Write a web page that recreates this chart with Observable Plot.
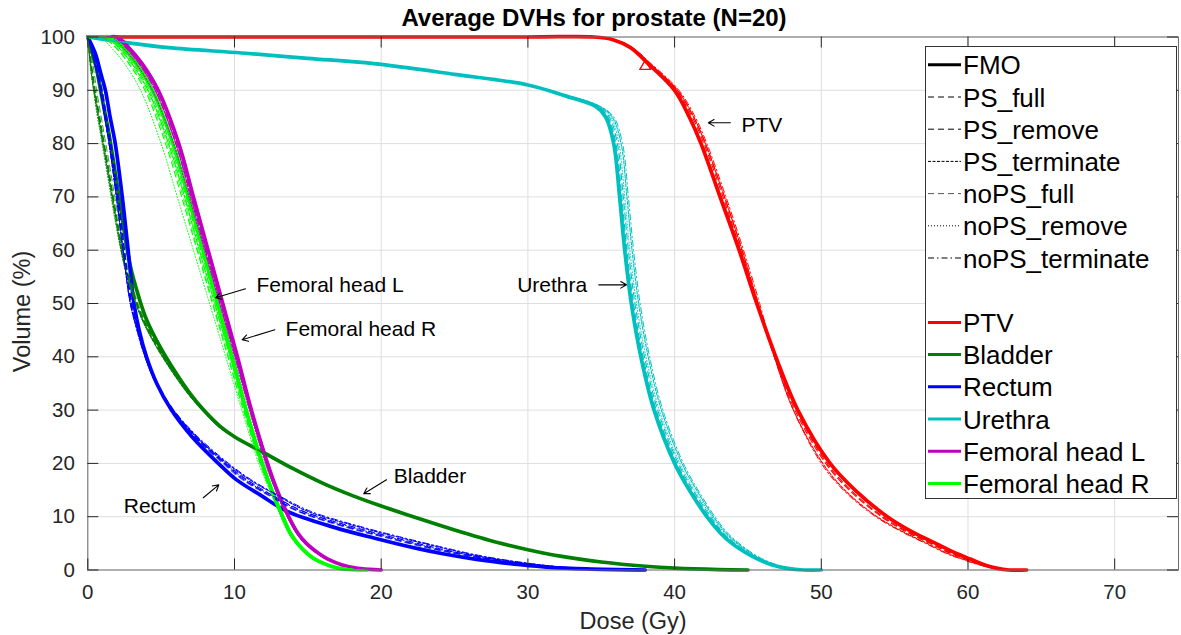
<!DOCTYPE html>
<html><head><meta charset="utf-8">
<script src="https://cdn.jsdelivr.net/npm/d3@7"></script>
<script src="https://cdn.jsdelivr.net/npm/@observablehq/plot@0.6"></script>
<style>
body{margin:0;background:#fff;font-family:"Liberation Sans",Arial,Helvetica,sans-serif;}
#wrap{position:relative;width:1181px;height:635px;overflow:hidden;}
#title{position:relative;height:16px;z-index:2;}
#title span{position:absolute;left:594px;top:6px;transform:translateX(-50%);white-space:nowrap;font-weight:bold;font-size:24px;line-height:24px;color:#000;}
#chart{position:relative;z-index:1;}
#legend{position:absolute;left:925px;top:46px;z-index:3;}
</style></head><body>
<div id="wrap"><div id="title"><span>Average DVHs for prostate (N=20)</span></div><div id="chart"></div><svg id="legend" width="253" height="455"></svg></div>
<script>
const methods = ["FMO","PS_full","PS_remove","PS_terminate","noPS_full","noPS_remove","noPS_terminate"];
const structures = ["PTV","Bladder","Rectum","Urethra","Femoral head L","Femoral head R"];
const structureColors = ["#ff0000","#008000","#0000ff","#00bfbf","#bf00bf","#00ff00"];
const xTicks = [0,10,20,30,40,50,60,70];
const yTicks = [0,10,20,30,40,50,60,70,80,90,100];

// Each structure: volume levels (%) and, per method (same order as methods), dose (Gy) at each level
const ptvVolume = [100,100,100,99.5,98,95,90,85,80,70,60,50,40,30,20,15,10,7,5,3,2,1,0.3,0,0];
const ptvDose = [
  [0,30,34.5,35.8,37.0,38.2,40.0,41.0,41.8,43.1,44.4,45.6,46.9,48.4,50.6,52.3,54.5,56.3,57.8,59.3,60.2,61.1,62.0,62.8,64],
  [0,30,34.5,35.8,37.0,38.3,40.2,41.3,42.1,43.4,44.6,45.7,46.9,48.3,50.4,52.0,54.2,56.0,57.5,59.0,59.9,60.9,61.9,62.7,64],
  [0,30,34.5,35.8,37.0,38.3,40.1,41.2,42.0,43.3,44.5,45.6,46.8,48.2,50.3,51.9,54.1,55.9,57.4,58.9,59.9,60.9,61.9,62.7,64],
  [0,30,34.5,35.9,37.1,38.3,40.2,41.3,42.1,43.4,44.6,45.7,46.8,48.1,50.1,51.6,53.8,55.7,57.2,58.7,59.7,60.8,61.8,62.7,64],
  [0,30,34.5,35.8,37.0,38.2,40.1,41.1,41.9,43.2,44.5,45.6,46.9,48.4,50.6,52.2,54.4,56.2,57.7,59.2,60.1,61.0,62.0,62.8,64],
  [0,30,34.5,35.8,37.0,38.2,40.0,41.0,41.8,43.1,44.4,45.6,46.9,48.4,50.6,52.3,54.5,56.3,57.8,59.3,60.2,61.1,62.0,62.8,64],
  [0,30,34.5,35.9,37.1,38.4,40.3,41.4,42.2,43.5,44.7,45.8,46.8,48.1,50.0,51.5,53.7,55.6,57.1,58.6,59.6,60.7,61.8,62.7,64]
];
const bladderVolume = [100,97,94,90,86,82,74,65,57,51,47,42,37,33,30,27,25,22,19,16.3,14,12,9.7,7.5,5.1,3.8,2.6,1.5,0.7,0.35,0.08,0];
const bladderDose = [
  [0,0.3,0.6,0.87,1.15,1.43,1.9,2.4,2.9,3.5,4.0,4.9,6.0,7.0,7.9,9.0,10.0,12.0,14.0,16.0,18.0,20.0,22.5,25.0,28.0,30.0,32.2,35.0,38.0,40.0,43.0,45.0],
  [0,0.15,0.3,0.5,0.75,1.0,1.5,2.05,2.6,3.25,3.8,4.75,5.9,6.9,7.85,8.95,10.0,12.0,14.0,16.0,18.0,20.0,22.5,25.0,28.0,30.0,32.2,35.0,38.0,40.0,43.0,45.0],
  [0,0.12,0.25,0.45,0.7,0.95,1.45,2.0,2.55,3.2,3.75,4.7,5.85,6.9,7.85,8.9,9.95,11.9,13.9,15.9,17.9,19.9,22.4,24.9,27.9,29.9,32.1,35.0,38.0,40.0,43.0,45.0],
  [0,0.1,0.2,0.4,0.65,0.9,1.4,1.95,2.5,3.15,3.7,4.65,5.8,6.85,7.8,8.9,9.95,11.9,13.9,15.9,17.9,19.9,22.4,24.9,27.9,29.9,32.1,35.0,38.0,40.0,43.0,45.0],
  [0,0.2,0.4,0.6,0.85,1.1,1.6,2.15,2.7,3.3,3.85,4.8,5.9,6.95,7.9,8.95,10.0,12.0,14.0,16.0,18.0,20.0,22.5,25.0,28.0,30.0,32.2,35.0,38.0,40.0,43.0,45.0],
  [0,0.1,0.2,0.4,0.6,0.85,1.35,1.9,2.5,3.15,3.7,4.65,5.8,6.85,7.8,8.85,9.9,11.9,13.9,15.9,17.9,19.9,22.4,24.9,27.9,29.9,32.1,35.0,38.0,40.0,43.0,45.0],
  [0,0.1,0.25,0.45,0.7,0.95,1.45,2.0,2.55,3.2,3.75,4.7,5.85,6.9,7.85,8.9,9.95,11.9,13.9,15.9,17.9,19.9,22.4,24.9,27.9,29.9,32.1,35.0,38.0,40.0,43.0,45.0]
];
const rectumVolume = [100,97,93,90,85,80,70,60,50,45,40,35,30,25,20,17,14,11,8,6,4,3,2,1,0.5,0.2,0];
const rectumDose = [
  [0,0.5,0.9,1.2,1.52,1.87,2.35,2.75,3.15,3.5,4.0,4.7,5.7,7.1,8.9,10.1,11.8,13.6,16.8,19.5,22.5,24.3,26.5,29.5,31.5,34,38],
  [0,0.35,0.7,0.9,1.2,1.5,2.0,2.45,2.95,3.4,3.95,4.7,5.8,7.3,9.3,10.6,12.4,14.4,17.8,20.6,23.6,25.4,27.5,30.3,32.2,34.5,38],
  [0,0.35,0.7,0.95,1.25,1.55,2.05,2.5,3.0,3.45,4.0,4.75,5.85,7.4,9.4,10.8,12.6,14.7,18.2,21.0,24.0,25.7,27.8,30.5,32.4,34.6,38],
  [0,0.3,0.65,0.85,1.15,1.45,1.95,2.4,2.9,3.35,3.9,4.65,5.8,7.4,9.5,11.0,12.9,15.0,18.6,21.4,24.4,26.0,28.0,30.7,32.5,34.7,38],
  [0,0.4,0.8,1.0,1.3,1.6,2.1,2.5,3.0,3.45,4.0,4.7,5.75,7.25,9.2,10.5,12.3,14.3,17.6,20.4,23.4,25.2,27.4,30.2,32.1,34.4,38],
  [0,0.3,0.6,0.85,1.15,1.45,1.95,2.4,2.9,3.4,3.95,4.7,5.8,7.35,9.35,10.7,12.5,14.6,18.0,20.8,23.8,25.6,27.7,30.4,32.3,34.6,38],
  [0,0.3,0.65,0.85,1.15,1.45,1.95,2.4,2.9,3.35,3.9,4.65,5.85,7.5,9.6,11.1,13.0,15.2,18.8,21.6,24.6,26.2,28.2,30.8,32.6,34.8,38]
];
const urethraVolume = [100,99,98,97,96,95,93,91,89,87,85,80,70,60,50,40,30,20,15,10,7,5,3,2,1,0.3,0,0];
const urethraDose = [
  [0,2.5,5.5,10.5,15,19.5,25,30,32.5,34.6,35.3,35.85,36.25,36.6,37.05,37.7,38.6,40.0,41.0,42.2,43.1,43.9,45.0,45.7,46.6,47.7,48.8,50],
  [0,2.5,5.5,10.5,15,19.5,25,30,32.6,34.7,35.45,36.0,36.4,36.75,37.2,37.85,38.75,40.15,41.15,42.35,43.25,44.05,45.1,45.8,46.7,47.8,48.8,50],
  [0,2.5,5.5,10.5,15,19.5,25,30,32.6,34.8,35.55,36.1,36.5,36.85,37.3,37.95,38.85,40.25,41.25,42.45,43.3,44.1,45.15,45.85,46.75,47.8,48.8,50],
  [0,2.5,5.5,10.5,15,19.5,25,30,32.7,34.9,35.75,36.35,36.75,37.1,37.55,38.2,39.1,40.5,41.5,42.65,43.5,44.3,45.3,45.95,46.85,47.9,48.9,50],
  [0,2.5,5.5,10.5,15,19.5,25,30,32.5,34.65,35.4,35.95,36.35,36.7,37.15,37.8,38.7,40.1,41.1,42.3,43.2,44.0,45.05,45.75,46.65,47.75,48.8,50],
  [0,2.5,5.5,10.5,15,19.5,25,30,32.6,34.8,35.65,36.2,36.6,36.95,37.4,38.05,38.95,40.35,41.35,42.55,43.4,44.2,45.2,45.9,46.8,47.85,48.9,50],
  [0,2.5,5.5,10.5,15,19.5,25,30,32.7,34.9,35.85,36.45,36.85,37.2,37.65,38.3,39.2,40.6,41.6,42.75,43.6,44.4,45.4,46.05,46.95,47.95,48.9,50]
];
const femoralVolume = [100,100,100,98,95,90,80,70,60,50,40,30,20,15,10,7,5,3,2,1,0.4,0.1,0];
const femoralLDose = [
  [0,1.4,2.0,2.8,3.7,4.8,6.2,7.2,8.2,9.2,10.2,11.15,12.25,12.9,13.7,14.3,14.9,15.8,16.4,17.3,18.2,19.2,20],
  [0,1.3,1.9,2.7,3.6,4.7,6.1,7.15,8.15,9.15,10.15,11.1,12.2,12.85,13.65,14.25,14.85,15.75,16.35,17.25,18.2,19.2,20],
  [0,1.2,1.8,2.6,3.5,4.6,6.0,7.05,8.05,9.1,10.1,11.1,12.2,12.85,13.65,14.25,14.85,15.75,16.35,17.25,18.2,19.2,20],
  [0,1.2,1.8,2.6,3.5,4.6,6.0,7.0,8.0,9.0,10.05,11.05,12.15,12.8,13.6,14.2,14.8,15.7,16.3,17.2,18.1,19.1,20],
  [0,1.3,1.9,2.7,3.6,4.7,6.1,7.1,8.1,9.1,10.1,11.1,12.2,12.85,13.65,14.25,14.85,15.75,16.35,17.25,18.2,19.2,20],
  [0,1.0,1.6,2.4,3.3,4.4,5.85,6.9,7.95,9.0,10.0,11.0,12.1,12.8,13.6,14.2,14.8,15.7,16.3,17.2,18.1,19.1,20],
  [0,1.2,1.8,2.6,3.5,4.6,6.0,7.05,8.05,9.05,10.05,11.05,12.15,12.8,13.6,14.2,14.8,15.7,16.3,17.2,18.1,19.1,20]
];
const femoralRDose = [
  [0,1.0,1.5,2.4,3.3,4.4,5.8,6.85,7.85,8.85,9.85,10.8,11.9,12.55,13.3,13.8,14.3,15.0,15.5,16.3,17.0,17.8,19],
  [0,0.8,1.3,2.2,3.1,4.2,5.6,6.7,7.7,8.75,9.75,10.75,11.85,12.5,13.25,13.75,14.25,14.95,15.45,16.25,16.95,17.8,19],
  [0,0.6,1.0,1.9,2.8,3.9,5.3,6.4,7.45,8.5,9.55,10.6,11.75,12.45,13.2,13.7,14.2,14.9,15.4,16.2,16.9,17.7,19],
  [0,0.7,1.2,2.1,3.0,4.1,5.5,6.6,7.6,8.65,9.7,10.7,11.8,12.45,13.2,13.7,14.2,14.9,15.4,16.2,16.9,17.7,19],
  [0,0.6,1.1,2.0,2.9,4.0,5.4,6.5,7.5,8.55,9.6,10.65,11.75,12.45,13.2,13.7,14.2,14.9,15.4,16.2,16.9,17.7,19],
  [0,0.4,0.8,1.6,2.5,3.6,5.0,6.1,7.2,8.3,9.4,10.5,11.65,12.4,13.15,13.65,14.15,14.85,15.35,16.15,16.85,17.7,19],
  [0,0.7,1.2,2.1,3.0,4.1,5.5,6.6,7.6,8.65,9.7,10.7,11.8,12.45,13.2,13.7,14.2,14.9,15.4,16.2,16.9,17.7,19]
];
// D95 marker on PTV
const ptvMarker = [{dose: 38.0, volume: 94.5}];
// text annotations (dose, volume) and arrows
const labels = [
  {text:"PTV", dose:44.56, volume:83.4},
  {text:"Urethra", dose:29.27, volume:53.5},
  {text:"Femoral head L", dose:11.5, volume:53.4},
  {text:"Femoral head R", dose:13.48, volume:45.2},
  {text:"Bladder", dose:20.86, volume:17.5},
  {text:"Rectum", dose:2.45, volume:11.95}
];
const arrows = [
  {d1:43.8, v1:83.9, d2:42.3, v2:83.9},
  {d1:34.83, v1:53.5, d2:36.72, v2:53.5},
  {d1:10.75, v1:52.76, d2:8.71, v2:51.07},
  {d1:12.75, v1:45.07, d2:10.52, v2:43.19},
  {d1:20.36, v1:16.92, d2:18.81, v2:14.3},
  {d1:7.87, v1:13.55, d2:8.93, v2:15.98}
];

const volumeSets = [ptvVolume, bladderVolume, rectumVolume, urethraVolume, femoralVolume, femoralVolume];
const doseSets = [ptvDose, bladderDose, rectumDose, urethraDose, femoralLDose, femoralRDose];
const rows = [];
structures.forEach((s, si) => {
  methods.forEach((m, mi) => {
    doseSets[si][mi].forEach((d, i) => rows.push({structure: s, method: m, dose: d, volume: volumeSets[si][i]}));
  });
});
const styles = {
  FMO: {w: 3.7, dash: null},
  PS_full: {w: 1.1, dash: "6,4"},
  PS_remove: {w: 1.1, dash: "6,4"},
  PS_terminate: {w: 1.1, dash: "3,1.5"},
  noPS_full: {w: 0.8, dash: "6,4"},
  noPS_remove: {w: 1, dash: "1,2"},
  noPS_terminate: {w: 1, dash: "6,3,1.5,3"}
};

const W = 1181, H = 619;
const mL = 87.3, mR = 3, mT = 20.5, mB = 65.5;
const fw = W - mL - mR, fh = H - mT - mB, tl = 11;
const lineMarks = methods.map(m => Plot.line(rows.filter(r => r.method === m), {
  x: "dose", y: "volume", z: "structure", stroke: "structure",
  strokeWidth: styles[m].w, strokeDasharray: styles[m].dash, curve: "catmull-rom"
}));

const chart = Plot.plot({
  width: W, height: H,
  marginLeft: mL, marginRight: mR, marginTop: mT, marginBottom: mB,
  style: {fontFamily: '"Liberation Sans", Arial, Helvetica, sans-serif', background: "transparent", overflow: "visible"},
  x: {domain: [0, 74.35], label: null},
  y: {domain: [0, 100], label: null},
  color: {domain: structures, range: structureColors},
  marks: [
    Plot.gridX(xTicks, {stroke: "#dedede", strokeOpacity: 1}),
    Plot.gridY(yTicks, {stroke: "#dedede", strokeOpacity: 1}),
    ...lineMarks,
    Plot.dot(ptvMarker, {x: "dose", y: "volume", symbol: "triangle", stroke: "#ff0000", r: 4, strokeWidth: 1.3}),
    Plot.arrow(arrows, {x1: "d1", y1: "v1", x2: "d2", y2: "v2", stroke: "black", strokeWidth: 1.1, headLength: 9}),
    Plot.text(labels, {x: "dose", y: "volume", text: "text", textAnchor: "start", lineAnchor: "middle", fontSize: 21, fill: "black"}),
    Plot.frame({stroke: "#6e6e6e", strokeWidth: 1}),
    Plot.tickX(xTicks, {x: d => d, insetTop: fh - tl, stroke: "#262626"}),
    Plot.tickX(xTicks, {x: d => d, insetBottom: fh - tl, stroke: "#262626"}),
    Plot.tickY(yTicks, {y: d => d, insetRight: fw - tl, stroke: "#262626"}),
    Plot.tickY(yTicks, {y: d => d, insetLeft: fw - tl, stroke: "#262626"}),
    Plot.axisX(xTicks, {tickSize: 0, tickPadding: 14, fontSize: 20.5, fill: "#262626", label: null}),
    Plot.axisY(yTicks, {tickSize: 0, tickPadding: 13, fontSize: 20.5, fill: "#262626", label: null}),
    Plot.text(["Dose (Gy)"], {frameAnchor: "bottom", dy: 51, lineAnchor: "middle", textAnchor: "middle", fontSize: 23.5, fill: "#262626"}),
    Plot.text(["Volume (%)"], {frameAnchor: "left", dx: -65, dy: 8, rotate: -90, textAnchor: "middle", lineAnchor: "middle", fontSize: 23.5, fill: "#262626"})
  ]
});
document.getElementById("chart").appendChild(chart);

// Legend
const leg = d3.select("#legend");
leg.append("rect").attr("x", 0.5).attr("y", 0.5).attr("width", 251).attr("height", 452)
  .attr("fill", "white").attr("stroke", "#333").attr("stroke-width", 1);
const legendEntries = [
  ...methods.map(m => ({label: m, color: m === "noPS_full" ? "#555" : "#000", w: m === "FMO" ? 3 : 1, dash: styles[m].dash})),
  null,
  ...structures.map((s, i) => ({label: s, color: structureColors[i], w: 3, dash: null}))
];
legendEntries.forEach((e, i) => {
  if (!e) return;
  const base = 28.3 + 32.2 * i;
  const ly = base - 9.5;
  leg.append("line").attr("x1", 3).attr("x2", 36).attr("y1", ly).attr("y2", ly)
    .attr("stroke", e.color).attr("stroke-width", e.w).attr("stroke-dasharray", e.dash);
  leg.append("text").attr("x", 38).attr("y", base).attr("font-size", 26)
    .attr("font-family", '"Liberation Sans", Arial, Helvetica, sans-serif').attr("fill", "#000").text(e.label);
});
</script>
</body></html>
